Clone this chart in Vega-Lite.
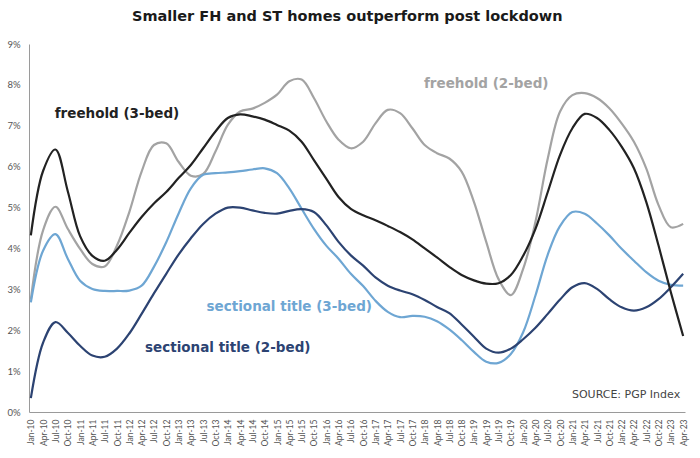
{
  "$schema": "https://vega.github.io/schema/vega-lite/v6.json",
  "width": 700,
  "height": 458,
  "autosize": {"type": "fit", "contains": "padding"},
  "padding": {"left": 6, "right": 12, "top": 8, "bottom": 12},
  "background": "white",
  "config": {"view": {"stroke": null}, "font": "Lato"},
  "title": {
    "text": "Smaller FH and ST homes outperform post lockdown",
    "font": "DejaVu Sans",
    "fontSize": 14.5,
    "fontWeight": "bold",
    "color": "#1a1a1a",
    "anchor": "middle",
    "frame": "bounds",
    "offset": 15
  },
  "layer": [
    {
      "data": {
        "values": [
          {"q": "Jan-10", "fh3": 4.32, "fh2": 2.75, "st3": 2.68, "st2": 0.34},
          {"q": "Apr-10", "fh3": 5.9, "fh2": 4.45, "st3": 3.95, "st2": 1.7},
          {"q": "Jul-10", "fh3": 6.42, "fh2": 5.02, "st3": 4.35, "st2": 2.2},
          {"q": "Oct-10", "fh3": 5.4, "fh2": 4.48, "st3": 3.75, "st2": 1.94},
          {"q": "Jan-11", "fh3": 4.3, "fh2": 3.99, "st3": 3.21, "st2": 1.62},
          {"q": "Apr-11", "fh3": 3.82, "fh2": 3.62, "st3": 3.01, "st2": 1.38},
          {"q": "Jul-11", "fh3": 3.7, "fh2": 3.56, "st3": 2.96, "st2": 1.35},
          {"q": "Oct-11", "fh3": 3.97, "fh2": 4.07, "st3": 2.96, "st2": 1.55},
          {"q": "Jan-12", "fh3": 4.38, "fh2": 4.89, "st3": 2.97, "st2": 1.92},
          {"q": "Apr-12", "fh3": 4.77, "fh2": 5.88, "st3": 3.09, "st2": 2.4},
          {"q": "Jul-12", "fh3": 5.1, "fh2": 6.53, "st3": 3.55, "st2": 2.9},
          {"q": "Oct-12", "fh3": 5.38, "fh2": 6.57, "st3": 4.15, "st2": 3.38},
          {"q": "Jan-13", "fh3": 5.72, "fh2": 6.12, "st3": 4.85, "st2": 3.85},
          {"q": "Apr-13", "fh3": 6.04, "fh2": 5.78, "st3": 5.47, "st2": 4.25},
          {"q": "Jul-13", "fh3": 6.45, "fh2": 5.82, "st3": 5.8, "st2": 4.6},
          {"q": "Oct-13", "fh3": 6.86, "fh2": 6.37, "st3": 5.84, "st2": 4.85},
          {"q": "Jan-14", "fh3": 7.19, "fh2": 7.02, "st3": 5.86, "st2": 5.0},
          {"q": "Apr-14", "fh3": 7.28, "fh2": 7.35, "st3": 5.89, "st2": 5.0},
          {"q": "Jul-14", "fh3": 7.23, "fh2": 7.42, "st3": 5.93, "st2": 4.93},
          {"q": "Oct-14", "fh3": 7.15, "fh2": 7.56, "st3": 5.96, "st2": 4.87},
          {"q": "Jan-15", "fh3": 7.02, "fh2": 7.76, "st3": 5.84, "st2": 4.85},
          {"q": "Apr-15", "fh3": 6.88, "fh2": 8.09, "st3": 5.47, "st2": 4.92},
          {"q": "Jul-15", "fh3": 6.61, "fh2": 8.13, "st3": 4.97, "st2": 4.96},
          {"q": "Oct-15", "fh3": 6.16, "fh2": 7.68, "st3": 4.48, "st2": 4.89},
          {"q": "Jan-16", "fh3": 5.71, "fh2": 7.11, "st3": 4.07, "st2": 4.57},
          {"q": "Apr-16", "fh3": 5.26, "fh2": 6.66, "st3": 3.75, "st2": 4.16},
          {"q": "Jul-16", "fh3": 4.97, "fh2": 6.45, "st3": 3.38, "st2": 3.83},
          {"q": "Oct-16", "fh3": 4.81, "fh2": 6.61, "st3": 3.08, "st2": 3.58},
          {"q": "Jan-17", "fh3": 4.69, "fh2": 7.06, "st3": 2.72, "st2": 3.29},
          {"q": "Apr-17", "fh3": 4.55, "fh2": 7.39, "st3": 2.45, "st2": 3.09},
          {"q": "Jul-17", "fh3": 4.4, "fh2": 7.31, "st3": 2.32, "st2": 2.97},
          {"q": "Oct-17", "fh3": 4.22, "fh2": 6.94, "st3": 2.35, "st2": 2.88},
          {"q": "Jan-18", "fh3": 4.0, "fh2": 6.53, "st3": 2.33, "st2": 2.74},
          {"q": "Apr-18", "fh3": 3.78, "fh2": 6.33, "st3": 2.22, "st2": 2.57},
          {"q": "Jul-18", "fh3": 3.55, "fh2": 6.2, "st3": 2.02, "st2": 2.42},
          {"q": "Oct-18", "fh3": 3.35, "fh2": 5.88, "st3": 1.76, "st2": 2.14},
          {"q": "Jan-19", "fh3": 3.22, "fh2": 5.14, "st3": 1.47, "st2": 1.84},
          {"q": "Apr-19", "fh3": 3.14, "fh2": 4.16, "st3": 1.23, "st2": 1.55},
          {"q": "Jul-19", "fh3": 3.15, "fh2": 3.25, "st3": 1.2, "st2": 1.45},
          {"q": "Oct-19", "fh3": 3.35, "fh2": 2.86, "st3": 1.42, "st2": 1.55},
          {"q": "Jan-20", "fh3": 3.82, "fh2": 3.5, "st3": 1.95, "st2": 1.78},
          {"q": "Apr-20", "fh3": 4.48, "fh2": 4.65, "st3": 2.85, "st2": 2.06},
          {"q": "Jul-20", "fh3": 5.38, "fh2": 6.2, "st3": 3.85, "st2": 2.4},
          {"q": "Oct-20", "fh3": 6.29, "fh2": 7.35, "st3": 4.55, "st2": 2.75},
          {"q": "Jan-21", "fh3": 6.94, "fh2": 7.75, "st3": 4.89, "st2": 3.05},
          {"q": "Apr-21", "fh3": 7.29, "fh2": 7.8, "st3": 4.85, "st2": 3.15},
          {"q": "Jul-21", "fh3": 7.19, "fh2": 7.68, "st3": 4.61, "st2": 3.01},
          {"q": "Oct-21", "fh3": 6.9, "fh2": 7.43, "st3": 4.32, "st2": 2.76},
          {"q": "Jan-22", "fh3": 6.49, "fh2": 7.06, "st3": 3.99, "st2": 2.56},
          {"q": "Apr-22", "fh3": 5.96, "fh2": 6.61, "st3": 3.7, "st2": 2.48},
          {"q": "Jul-22", "fh3": 5.14, "fh2": 5.96, "st3": 3.42, "st2": 2.56},
          {"q": "Oct-22", "fh3": 4.07, "fh2": 5.06, "st3": 3.21, "st2": 2.76},
          {"q": "Jan-23", "fh3": 2.93, "fh2": 4.52, "st3": 3.11, "st2": 3.05},
          {"q": "Apr-23", "fh3": 1.86, "fh2": 4.6, "st3": 3.09, "st2": 3.38}
        ]
      },
      "transform": [{"fold": ["fh2", "st3", "st2", "fh3"], "as": ["series", "value"]}],
      "mark": {"type": "line", "interpolate": "catmull-rom", "strokeWidth": 2.2},
      "encoding": {
        "x": {
          "field": "q",
          "type": "nominal",
          "scale": {
            "type": "point",
            "padding": 0.15,
            "domain": [
              "Jan-10", "Apr-10", "Jul-10", "Oct-10",
              "Jan-11", "Apr-11", "Jul-11", "Oct-11",
              "Jan-12", "Apr-12", "Jul-12", "Oct-12",
              "Jan-13", "Apr-13", "Jul-13", "Oct-13",
              "Jan-14", "Apr-14", "Jul-14", "Oct-14",
              "Jan-15", "Apr-15", "Jul-15", "Oct-15",
              "Jan-16", "Apr-16", "Jul-16", "Oct-16",
              "Jan-17", "Apr-17", "Jul-17", "Oct-17",
              "Jan-18", "Apr-18", "Jul-18", "Oct-18",
              "Jan-19", "Apr-19", "Jul-19", "Oct-19",
              "Jan-20", "Apr-20", "Jul-20", "Oct-20",
              "Jan-21", "Apr-21", "Jul-21", "Oct-21",
              "Jan-22", "Apr-22", "Jul-22", "Oct-22",
              "Jan-23", "Apr-23"
            ]
          },
          "axis": {
            "title": null,
            "labelAngle": 270,
            "labelFontSize": 8.5,
            "labelColor": "#555555",
            "labelPadding": 7,
            "labelOverlap": false,
            "ticks": false,
            "grid": false,
            "domainColor": "#9a9a9a"
          }
        },
        "y": {
          "field": "value",
          "type": "quantitative",
          "scale": {"domain": [0, 9], "nice": false},
          "axis": {
            "title": null,
            "values": [0, 1, 2, 3, 4, 5, 6, 7, 8, 9],
            "labelExpr": "datum.value + '%'",
            "labelFontSize": 9.5,
            "labelColor": "#555555",
            "labelPadding": 9,
            "ticks": false,
            "grid": false,
            "domainColor": "#9a9a9a"
          }
        },
        "color": {
          "field": "series",
          "type": "nominal",
          "scale": {
            "domain": ["fh3", "fh2", "st3", "st2"],
            "range": ["#222222", "#a3a3a3", "#6ea6d3", "#2c4372"]
          },
          "legend": null
        }
      }
    },
    {
      "data": {
        "values": [
          {"q": "Oct-11", "value": 7.28, "series": "fh3", "label": "freehold (3-bed)"},
          {"q": "Apr-19", "value": 8.02, "series": "fh2", "label": "freehold (2-bed)"},
          {"q": "Apr-15", "value": 2.56, "series": "st3", "label": "sectional title (3-bed)"},
          {"q": "Jan-14", "value": 1.57, "series": "st2", "label": "sectional title (2-bed)"}
        ]
      },
      "mark": {"type": "text", "font": "DejaVu Sans", "fontSize": 13.5, "fontWeight": "bold", "align": "center", "baseline": "middle"},
      "encoding": {
        "x": {"field": "q", "type": "nominal"},
        "y": {"field": "value", "type": "quantitative"},
        "text": {"field": "label"},
        "color": {"field": "series", "type": "nominal", "legend": null}
      }
    },
    {
      "data": {"values": [{"q": "Apr-23", "value": 0.42, "label": "SOURCE: PGP Index"}]},
      "mark": {"type": "text", "font": "DejaVu Sans", "fontSize": 11, "align": "right", "baseline": "middle", "dx": -3, "color": "#444444"},
      "encoding": {
        "x": {"field": "q", "type": "nominal"},
        "y": {"field": "value", "type": "quantitative"},
        "text": {"field": "label"}
      }
    }
  ]
}
